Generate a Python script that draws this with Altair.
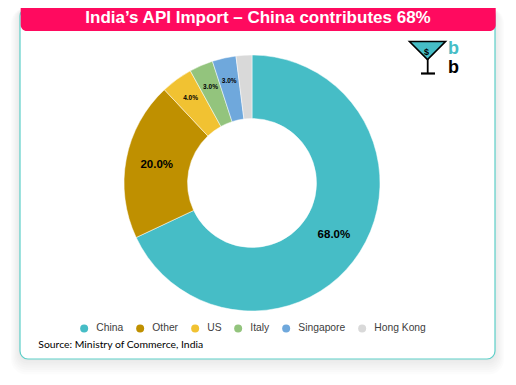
import altair as alt
import pandas as pd

# ---- data ----
categories = ["China", "Other", "US", "Italy", "Singapore", "Hong Kong"]
shares = [68, 20, 4, 3, 3, 2]
labels = ["68.0%", "20.0%", "4.0%", "3.0%", "3.0%", ""]
colors = ["#46BDC6", "#BF9000", "#F1C232", "#93C47D", "#6FA8DC", "#D9D9D9"]
title_text = "India’s API Import – China contributes 68%"
source_text = "Source: Ministry of Commerce, India"

df = pd.DataFrame({"category": categories, "value": shares, "label": labels,
                   "idx": list(range(len(categories)))})

W, H = 500, 369
CX, CY = 244, 175
one = pd.DataFrame({"_": [0]})


def box(x1, x2, y1, y2, **kw):
    return alt.Chart(one).mark_rect(**kw).encode(
        x=alt.value(x1), x2=alt.value(x2), y=alt.value(y1), y2=alt.value(y2))


def txt(s, x, y, **kw):
    return alt.Chart(one).mark_text(text=s, **kw).encode(x=alt.value(x), y=alt.value(y))


layers = []
# soft card shadow
for k in range(1, 8):
    layers.append(box(12 - k * 1.3, 487 + k * 1.3, 0, 351 + k * 2.2,
                      cornerRadius=8 + k, color="black", opacity=0.010))
# card
layers.append(box(12, 487, 0, 351, cornerRadius=8, fill="white",
                  stroke="#5CCFC8", strokeWidth=1.2))
# banner
layers.append(box(12.7, 487.7, -8, 23, cornerRadius=6, color="#FF0A5F"))
layers.append(txt(title_text, 250, 15.3, font="Liberation Sans", fontSize=17,
                  fontWeight="bold", color="white", align="center",
                  baseline="alphabetic"))

# logo (martini glass + b b)
layers.append(alt.Chart(one).mark_point(
    shape="M-1,-0.5L1,-0.5L0,0.5Z", size=1296, filled=True, fill="#46BDC6",
    stroke="black", strokeWidth=1.6, opacity=1).encode(
    x=alt.value(419.5), y=alt.value(42.5)))
layers.append(alt.Chart(one).mark_rule(color="black", strokeWidth=1.8).encode(
    x=alt.value(419.7), y=alt.value(51), y2=alt.value(65.5)))
layers.append(alt.Chart(one).mark_rule(color="black", strokeWidth=2.2).encode(
    x=alt.value(413), x2=alt.value(427), y=alt.value(65.5)))
layers.append(txt("$", 418.5, 43.5, font="Liberation Sans", fontSize=9,
                  fontWeight="bold", color="black", align="center",
                  baseline="middle"))
layers.append(txt("b", 445.5, 41, font="Liberation Sans", fontSize=18,
                  fontWeight="bold", color="#46BDC6", align="center",
                  baseline="middle"))
layers.append(txt("b", 445.5, 60, font="Liberation Sans", fontSize=18,
                  fontWeight="bold", color="black", align="center",
                  baseline="middle"))

# donut
legend = alt.Legend(title=None, orient="none", legendX=71, legendY=315,
                    direction="horizontal", columns=6, symbolType="circle",
                    symbolSize=64, symbolStrokeWidth=0,
                    labelFont="Liberation Sans", labelFontSize=10.3,
                    labelColor="#404040", labelOffset=7, columnPadding=11)
arc = alt.Chart(df).mark_arc(radius=128, innerRadius=64.5, stroke="white",
                             strokeWidth=0.5).encode(
    theta=alt.Theta("value:Q", stack=True),
    color=alt.Color("category:N", scale=alt.Scale(domain=categories, range=colors),
                    legend=legend),
    order=alt.Order("idx:Q"),
    x=alt.value(CX), y=alt.value(CY))
layers.append(arc)

big = alt.Chart(df).mark_text(radius=97, font="Liberation Sans", fontSize=11.5,
                              fontWeight="bold", color="black").encode(
    theta=alt.Theta("value:Q", stack=True),
    detail="category:N",
    order=alt.Order("idx:Q"),
    text=alt.condition("datum.value >= 10", "label:N", alt.value("")),
    x=alt.value(CX), y=alt.value(CY))
small = alt.Chart(df).mark_text(radius=104.5, font="Liberation Sans", fontSize=6.5,
                                fontWeight="bold", color="black").encode(
    theta=alt.Theta("value:Q", stack=True),
    detail="category:N",
    order=alt.Order("idx:Q"),
    text=alt.condition("datum.value < 10", "label:N", alt.value("")),
    x=alt.value(CX), y=alt.value(CY))
layers += [big, small]

layers.append(txt(source_text, 30.3, 337, font="Lato", fontSize=10.4,
                  color="black", align="left", baseline="middle"))

chart = alt.layer(*layers).properties(
    width=W, height=H, padding=0,
    autosize=alt.AutoSizeParams(type="none")
).configure_view(stroke=None)

chart.save("out.html", embed_options={"renderer": "svg", "actions": False})
